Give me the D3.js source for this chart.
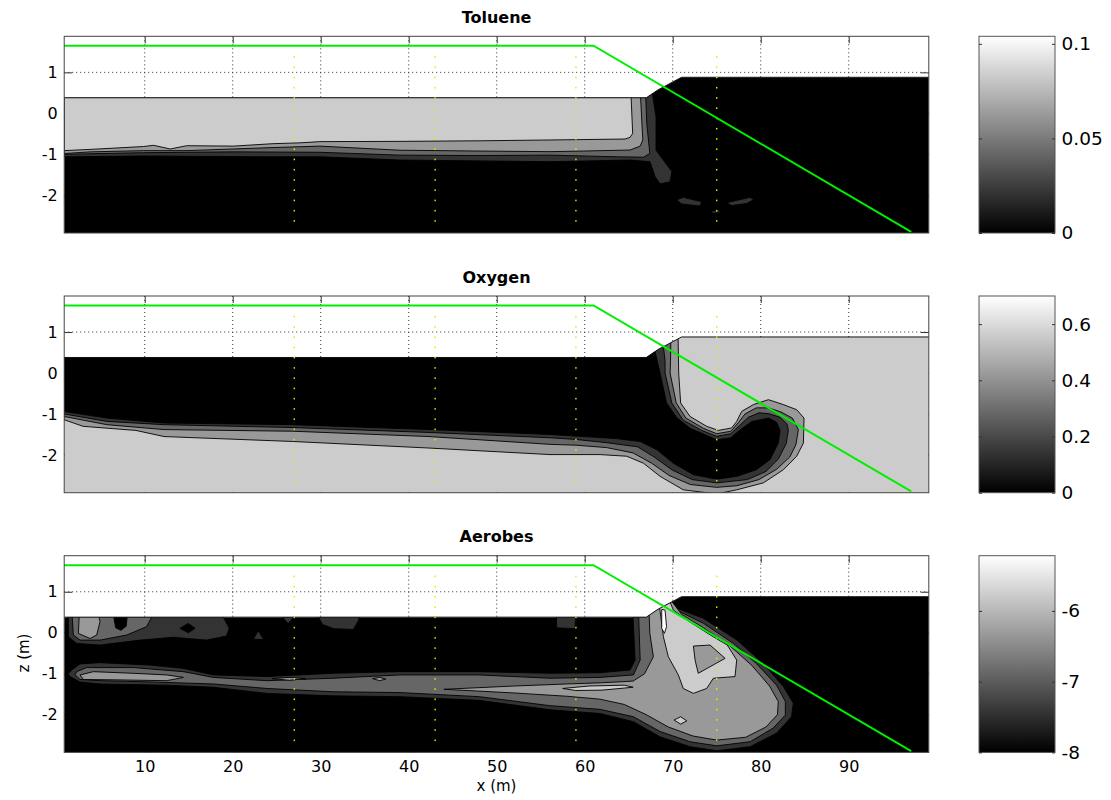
<!DOCTYPE html>
<html>
<head>
<meta charset="utf-8">
<script src="https://cdn.jsdelivr.net/npm/d3@7"></script>
<style>
  body { margin: 0; background: #fff; }
  text { font-family: "DejaVu Sans", sans-serif; }
</style>
</head>
<body>
<div id="chart"></div>
<script>

// axes
var xDomain = [0.85, 99.1];
var zDomain = [-2.92, 1.88];
var xTicks = [10, 20, 30, 40, 50, 60, 70, 80, 90];
var zTicks = [-2, -1, 0, 1];

// ground surface (top of the model domain)
var surfaceX = [0.85, 67.0, 68.3, 71.0, 99.1];
var surfaceZ = [0.38, 0.38, 0.57, 0.88, 0.88];

// green line (water table / slope)
var greenX = [0.85, 61.0, 97.1];
var greenZ = [1.65, 1.65, -2.89];

// yellow observation points
var wellX = [27, 43, 59, 75];
var wellZ = [1.375, 1.125, 0.875, 0.625, 0.375, 0.125, -0.125, -0.375, -0.625, -0.875,
             -1.125, -1.375, -1.625, -1.875, -2.125, -2.375, -2.625];

var titles = ["Toluene", "Oxygen", "Aerobes"];

// colour bar ranges and ticks
var tolueneRange = [0, 0.104];
var tolueneTicks = [0, 0.05, 0.1];
var oxygenRange = [0, 0.70];
var oxygenTicks = [0, 0.2, 0.4, 0.6];
var aerobesRange = [-8, -5.22];
var aerobesTicks = [-8, -7, -6];

// background level of each panel
var tolueneBase = 0;
var oxygenBase = 0.56;
var aerobesBase = -8;

// filled contour regions, drawn in order: {v: level, pts: [[x, z], ...]}
var tolueneRegions = [
  {v: 0.0208, pts: [[0.85,0.6],[67.6,0.6],[68.1,-0.08],[68.1,-0.9],[69.9,-1.42],[69.7,-1.67],[68.56,-1.72],[68.0,-1.55],[67.42,-1.18],[65.15,-1.14],[56.06,-1.18],[48,-1.16],[39,-1.14],[29.9,-1.06],[23.9,-1.06],[9.85,-1.04],[0.85,-1.06]]},
  {v: 0.0416, pts: [[0.85,0.6],[66.9,0.6],[67.05,-0.245],[67.4,-0.98],[66.67,-1.07],[63.6,-1.06],[56.06,-1.02],[48,-1.03],[39,-1.02],[29.9,-0.95],[20.1,-0.94],[9.85,-0.96],[0.85,-1.0]]},
  {v: 0.0624, pts: [[0.85,0.6],[66.3,0.6],[66.48,-0.16],[66.6,-0.65],[66.3,-0.8],[65.15,-0.895],[59.85,-0.92],[56.06,-0.935],[48,-0.92],[39,-0.9],[29.9,-0.8],[23.9,-0.84],[14.8,-0.91],[9.85,-0.91],[3.8,-0.94],[0.85,-0.98]]},
  {v: 0.0832, pts: [[0.85,0.6],[65.23,0.6],[65.45,-0.49],[65.15,-0.586],[64.58,-0.627],[56.06,-0.65],[48,-0.67],[39,-0.684],[29.9,-0.69],[27.65,-0.72],[24.6,-0.74],[20.1,-0.8],[14.77,-0.79],[12.9,-0.87],[11.0,-0.78],[9.85,-0.81],[3.8,-0.88],[0.85,-0.91]]},
  {v: 0.0208, pts: [[70.45,-2.11],[71.2,-2.05],[73.3,-2.16],[73.1,-2.26],[71.0,-2.21]]},
  {v: 0.0208, pts: [[76.1,-2.18],[78.8,-2.05],[79.2,-2.11],[78.4,-2.2],[76.7,-2.25]]},
  {v: 0.0208, pts: [[74.2,-2.4],[75.2,-2.36],[75.4,-2.42],[74.6,-2.44]]}
];

var oxygenRegions = [
  {v: 0.42, pts: [[0.85,0.6],[70.6,1.0],[70.68,0.0],[70.9,-0.73],[71.97,-1.06],[73.86,-1.3],[75.19,-1.4],[76.7,-1.34],[77.27,-1.18],[77.84,-0.935],[79.17,-0.77],[80.87,-0.65],[82.57,-0.77],[84.09,-0.895],[84.92,-1.1],[84.85,-1.71],[84.09,-2.03],[82.57,-2.36],[80.3,-2.68],[77.27,-2.85],[75.0,-2.95],[71.2,-2.85],[68.56,-2.52],[66.67,-2.2],[64.77,-2.03],[61.74,-1.99],[56.06,-1.99],[42.3,-1.83],[26.8,-1.67],[12.2,-1.55],[9.0,-1.4],[3.0,-1.3],[0.85,-1.14]]},
  {v: 0.28, pts: [[0.85,0.6],[69.8,1.0],[69.75,0.3],[69.7,0.0],[70.4,-0.73],[71.5,-1.1],[73.5,-1.35],[75.0,-1.48],[76.6,-1.42],[77.5,-1.2],[78.2,-1.0],[79.5,-0.85],[80.9,-0.85],[82.3,-0.95],[83.6,-1.1],[84.28,-1.38],[84.0,-1.75],[83.3,-2.05],[81.8,-2.35],[79.8,-2.6],[77.3,-2.75],[75.0,-2.79],[72.0,-2.72],[69.6,-2.5],[67.6,-2.2],[65.5,-1.95],[62.5,-1.82],[59.0,-1.76],[56.06,-1.74],[42.3,-1.55],[26.8,-1.42],[12.2,-1.38],[5.7,-1.26],[0.85,-1.06]]},
  {v: 0.14, pts: [[0.85,0.6],[68.8,0.9],[69.13,0.3],[69.13,0.0],[69.9,-0.73],[71.2,-1.15],[73.3,-1.4],[75.0,-1.545],[76.6,-1.48],[77.6,-1.28],[78.6,-1.08],[79.8,-0.97],[80.9,-0.99],[82.2,-1.08],[83.0,-1.25],[83.14,-1.4],[82.9,-1.72],[82.0,-2.1],[80.6,-2.4],[78.5,-2.6],[75.0,-2.68],[72.2,-2.6],[69.9,-2.36],[67.9,-2.05],[66.0,-1.8],[62.5,-1.7],[59.0,-1.62],[56.06,-1.58],[42.3,-1.45],[26.8,-1.33],[12.2,-1.26],[5.7,-1.18],[0.85,-1.0]]},
  {v: 0, pts: [[0.85,0.6],[67.8,0.7],[68.56,0.0],[69.3,-0.73],[70.5,-1.1],[72.0,-1.35],[75.0,-1.63],[76.6,-1.58],[77.7,-1.38],[79.0,-1.18],[80.9,-1.1],[81.8,-1.2],[82.2,-1.4],[82.0,-1.71],[81.06,-2.11],[79.5,-2.36],[77.3,-2.52],[75.0,-2.59],[72.35,-2.48],[70.08,-2.2],[68.2,-1.87],[66.3,-1.67],[63.6,-1.6],[59.8,-1.55],[56.06,-1.5],[42.3,-1.38],[26.8,-1.26],[12.2,-1.22],[5.7,-1.1],[0.85,-0.94]]}
];

var aerobesRegions = [
  {v: -7.444, pts: [[1.3,0.6],[1.33,-0.1],[2.27,-0.26],[4.92,-0.3],[9.47,-0.18],[13.26,-0.11],[17.0,-0.18],[19.3,-0.08],[19.6,0.11],[18.4,0.6]]},
  {v: -6.888, pts: [[1.7,0.6],[1.89,-0.056],[2.65,-0.18],[4.92,-0.18],[7.95,-0.056],[10.2,0.147],[11.36,0.6]]},
  {v: -6.332, pts: [[2.6,0.6],[2.46,-0.016],[3.79,-0.14],[4.54,-0.056],[4.92,0.27],[4.6,0.6]]},
  {v: -8, pts: [[6.3,0.6],[6.7,0.12],[7.3,0.06],[7.9,0.16],[8.1,0.6]]},
  {v: -8, pts: [[14.0,0.107],[14.96,0.228],[15.72,0.107],[14.96,0.0]]},
  {v: -7.444, pts: [[22.35,-0.16],[22.9,0.05],[23.5,-0.16]]},
  {v: -7.444, pts: [[24.8,0.6],[26.3,0.22],[27.8,0.6]]},
  {v: -7.444, pts: [[29.2,0.6],[30.2,0.2],[31.5,0.1],[33.7,0.08],[34.3,0.3],[34.5,0.6]]},
  {v: -7.444, pts: [[56.8,0.6],[56.8,0.12],[58.9,0.1],[59.0,0.6]]},
  {v: -7.444, pts: [[1.3,-1.0],[1.7,-0.91],[2.65,-0.76],[4.92,-0.73],[10.6,-0.79],[14.4,-0.87],[17.8,-1.03],[23.9,-1.07],[31.4,-0.99],[39.0,-0.95],[48,-0.95],[56.06,-0.99],[61.74,-0.975],[65.15,-0.91],[65.72,-0.666],[65.45,0.6],[67.0,0.6],[69.1,0.8],[70.45,0.6],[73.5,0.35],[77.3,-0.18],[80.3,-0.75],[82.6,-1.32],[83.7,-1.72],[83.5,-2.05],[81.8,-2.45],[78.8,-2.78],[75.0,-2.88],[71.97,-2.78],[68.56,-2.54],[65.53,-2.17],[61.74,-1.97],[56.06,-1.88],[48,-1.65],[39,-1.56],[31.4,-1.54],[23.9,-1.48],[17.8,-1.33],[12.5,-1.28],[4.92,-1.25],[2.65,-1.2],[1.51,-1.07]]},
  {v: -6.888, pts: [[2.08,-1.03],[2.27,-0.95],[3.4,-0.85],[8.7,-0.85],[14.4,-0.95],[17.8,-1.09],[23.9,-1.17],[31.4,-1.11],[39,-1.03],[48,-1.03],[56.06,-1.11],[61.74,-1.09],[65.53,-1.03],[66.3,-0.666],[66.1,0.6],[67.0,0.6],[69.3,0.85],[70.45,0.55],[73.5,0.23],[76.9,-0.26],[79.5,-0.75],[81.8,-1.28],[82.8,-1.68],[82.8,-2.01],[81.4,-2.33],[78.8,-2.66],[75.0,-2.76],[71.97,-2.66],[68.56,-2.41],[65.53,-2.05],[61.74,-1.87],[56.06,-1.78],[48,-1.56],[39,-1.46],[31.4,-1.44],[23.9,-1.36],[17.8,-1.25],[10.6,-1.2],[4.92,-1.17],[2.65,-1.14]]},
  {v: -6.332, pts: [[2.65,-1.03],[4.17,-0.95],[8.7,-0.99],[12.5,-1.03],[14.4,-1.09],[12.5,-1.17],[6.8,-1.15],[3.03,-1.14]]},
  {v: -6.332, pts: [[24.5,-1.12],[26.4,-1.09],[28.3,-1.12],[26.4,-1.16]]},
  {v: -6.332, pts: [[35.9,-1.12],[36.7,-1.09],[37.4,-1.13],[36.7,-1.17]]},
  {v: -6.332, pts: [[67.3,0.6],[69.6,0.85],[71.0,0.45],[73.5,0.12],[76.5,-0.32],[79.0,-0.8],[81.0,-1.3],[82.0,-1.68],[81.9,-2.0],[80.6,-2.3],[78.3,-2.55],[75.0,-2.62],[72.3,-2.52],[69.5,-2.3],[67.0,-2.0],[64.5,-1.75],[61.7,-1.62],[58.0,-1.55],[52,-1.47],[44,-1.38],[52,-1.3],[58,-1.25],[62,-1.22],[65.5,-1.18],[66.8,-1.0],[67.8,-0.585],[67.4,-0.016]]},
  {v: -5.776, pts: [[57.5,-1.36],[60.5,-1.3],[64.5,-1.28],[65.5,-1.33],[62,-1.4],[59,-1.41]]},
  {v: -5.776, pts: [[68.4,0.8],[68.94,-0.097],[69.5,-0.585],[70.64,-1.03],[71.2,-1.36],[72.35,-1.48],[73.86,-1.36],[74.62,-1.11],[77.08,-1.07],[77.27,-0.666],[76.2,-0.3],[74.24,-0.05],[71.97,0.26],[70.08,0.55],[69.5,0.85]]},
  {v: -6.332, pts: [[72.35,-0.325],[74.24,-0.3],[75.95,-0.625],[72.9,-0.99],[72.54,-0.666]]},
  {v: -5.22, pts: [[68.75,0.57],[69.13,0.55],[69.3,0.147],[69.05,-0.016],[68.75,0.107]]},
  {v: -5.776, pts: [[70.15,-2.13],[70.9,-2.05],[71.6,-2.15],[70.9,-2.23]]}
];

var panels = [
  {title: titles[0], range: tolueneRange, ticks: tolueneTicks, base: tolueneBase, regions: tolueneRegions, top: 36.3},
  {title: titles[1], range: oxygenRange, ticks: oxygenTicks, base: oxygenBase, regions: oxygenRegions, top: 296},
  {title: titles[2], range: aerobesRange, ticks: aerobesTicks, base: aerobesBase, regions: aerobesRegions, top: 555.7}
];

var width = 1111, height = 800;
var panelH = 196.7;
var cbLeft = 979, cbRight = 1055;

var svg = d3.select("#chart").append("svg")
    .attr("width", width)
    .attr("height", height);

svg.append("rect").attr("width", width).attr("height", height).attr("fill", "#fff");

var defs = svg.append("defs");
var grad = defs.append("linearGradient")
    .attr("id", "grayGrad")
    .attr("x1", 0).attr("y1", 1).attr("x2", 0).attr("y2", 0);
grad.append("stop").attr("offset", "0%").attr("stop-color", "#000");
grad.append("stop").attr("offset", "100%").attr("stop-color", "#fff");

var x = d3.scaleLinear().domain(xDomain).range([64.2, 928.8]);

var domainPts = surfaceX.map(function(d, i) { return [d, surfaceZ[i]]; })
    .concat([[xDomain[1], zDomain[0]], [xDomain[0], zDomain[0]]]);

panels.forEach(function(p, pi) {

    var y = d3.scaleLinear().domain(zDomain).range([panelH, 0]);
    var gray = d3.scaleLinear().domain(p.range).range(["#000000", "#ffffff"]).clamp(true);

    var line = d3.line()
        .x(function(d) { return x(d[0]); })
        .y(function(d) { return y(d[1]); });

    var g = svg.append("g")
        .attr("transform", "translate(0," + p.top + ")");

    // grid (sits under the filled contours)
    g.selectAll(".vgrid")
        .data(xTicks)
        .enter().append("line")
        .attr("x1", function(d) { return x(d); })
        .attr("x2", function(d) { return x(d); })
        .attr("y1", 0).attr("y2", panelH)
        .attr("stroke", "#333")
        .attr("stroke-width", 1)
        .attr("stroke-dasharray", "1,3");

    g.selectAll(".hgrid")
        .data(zTicks)
        .enter().append("line")
        .attr("x1", x.range()[0]).attr("x2", x.range()[1])
        .attr("y1", function(d) { return y(d); })
        .attr("y2", function(d) { return y(d); })
        .attr("stroke", "#333")
        .attr("stroke-width", 1)
        .attr("stroke-dasharray", "1,3");

    // axes, ticks inward
    var yAxis = d3.axisLeft(y).tickValues(zTicks).tickSize(-8).tickPadding(6.5)
        .tickFormat(function(d) { return String(d); });
    var gy = g.append("g")
        .attr("transform", "translate(" + x.range()[0] + ",0)")
        .call(yAxis);

    g.append("g")
        .attr("transform", "translate(" + x.range()[1] + ",0)")
        .call(d3.axisRight(y).tickValues(zTicks).tickSize(-8).tickFormat(""));

    g.append("g")
        .call(d3.axisTop(x).tickValues(xTicks).tickSize(-7).tickFormat(""));

    var xAxis = d3.axisBottom(x).tickValues(xTicks).tickSize(-7).tickPadding(8.5)
        .tickFormat(pi === 2 ? function(d) { return String(d); } : "");
    var gx = g.append("g")
        .attr("transform", "translate(0," + panelH + ")")
        .call(xAxis);

    [gy, gx].forEach(function(a) {
        a.attr("font-size", 16).attr("font-family", "DejaVu Sans, sans-serif");
        a.selectAll("text").attr("fill", "#000");
    });
    g.selectAll(".domain").remove();
    g.selectAll(".tick line").attr("stroke", "#333");

    // clip to the model domain
    defs.append("clipPath")
        .attr("id", "clip" + pi)
        .append("path")
        .attr("d", line(domainPts) + "Z");

    var fills = g.append("g").attr("clip-path", "url(#clip" + pi + ")");

    fills.append("path")
        .attr("d", line(domainPts) + "Z")
        .attr("fill", gray(p.base));

    fills.selectAll(".region")
        .data(p.regions)
        .enter().append("path")
        .attr("class", "region")
        .attr("d", function(d) { return line(d.pts) + "Z"; })
        .attr("fill", function(d) { return gray(d.v); })
        .attr("stroke", "#000")
        .attr("stroke-width", 0.9)
        .attr("stroke-linejoin", "round");

    // surface outline
    g.append("path")
        .attr("d", line(domainPts.slice(0, surfaceX.length)))
        .attr("fill", "none")
        .attr("stroke", "#111")
        .attr("stroke-width", 1);

    // yellow observation points
    var wellPts = [];
    wellX.forEach(function(wx) {
        wellZ.forEach(function(wz) { wellPts.push([wx, wz]); });
    });
    g.selectAll(".well")
        .data(wellPts)
        .enter().append("rect")
        .attr("x", function(d) { return x(d[0]) - 0.7; })
        .attr("y", function(d) { return y(d[1]) - 0.8; })
        .attr("width", 1.4)
        .attr("height", 1.6)
        .attr("fill", "#e8e800");

    // green line
    g.append("path")
        .attr("d", line(greenX.map(function(d, i) { return [d, greenZ[i]]; })))
        .attr("fill", "none")
        .attr("stroke", "#00ee00")
        .attr("stroke-width", 2);

    // frame
    g.append("rect")
        .attr("x", x.range()[0]).attr("y", 0)
        .attr("width", x.range()[1] - x.range()[0])
        .attr("height", panelH)
        .attr("fill", "none")
        .attr("stroke", "#444")
        .attr("stroke-width", 1);

    // title
    g.append("text")
        .attr("x", (x.range()[0] + x.range()[1]) / 2)
        .attr("y", -13.5)
        .attr("text-anchor", "middle")
        .attr("font-size", 16)
        .attr("font-weight", "bold")
        .text(p.title);

    // colour bar
    var cy = d3.scaleLinear().domain(p.range).range([panelH, 0]);
    g.append("rect")
        .attr("x", cbLeft).attr("y", 0)
        .attr("width", cbRight - cbLeft).attr("height", panelH)
        .attr("fill", "url(#grayGrad)")
        .attr("stroke", "#555")
        .attr("stroke-width", 1);

    g.append("g")
        .attr("transform", "translate(" + cbLeft + ",0)")
        .call(d3.axisLeft(cy).tickValues(p.ticks).tickSize(-3).tickFormat(""))
        .select(".domain").remove();

    var gc = g.append("g")
        .attr("transform", "translate(" + cbRight + ",0)")
        .call(d3.axisRight(cy).tickValues(p.ticks).tickSize(-3).tickPadding(6.5)
            .tickFormat(function(d) { return String(d); }));
    gc.select(".domain").remove();
    gc.attr("font-size", 18.5).attr("font-family", "DejaVu Sans, sans-serif");
    gc.selectAll("text").attr("fill", "#000");
    g.selectAll(".tick line").attr("stroke", "#333");
});

// axis titles
svg.append("text")
    .attr("x", (x.range()[0] + x.range()[1]) / 2)
    .attr("y", 791)
    .attr("text-anchor", "middle")
    .attr("font-size", 15)
    .text("x (m)");

svg.append("text")
    .attr("transform", "translate(24,653) rotate(-90)")
    .attr("text-anchor", "middle")
    .attr("dy", "0.35em")
    .attr("font-size", 15)
    .text("z (m)");

</script>
</body>
</html>
